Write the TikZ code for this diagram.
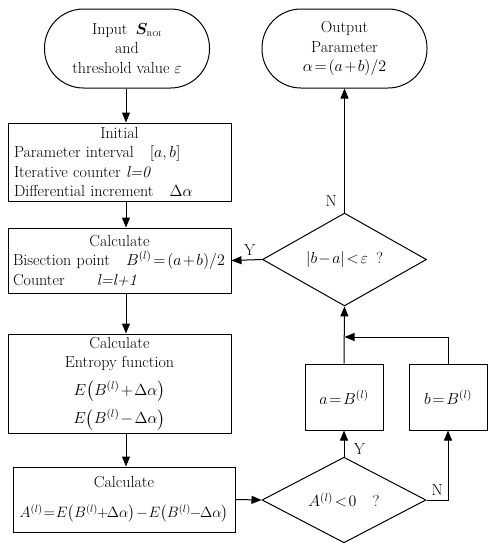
\IfFileExists{fix-cm.sty}{\RequirePackage{fix-cm}}{}
\documentclass[tikz,border=0pt]{standalone}
\usepackage{amsmath}
\IfFileExists{bm.sty}{\usepackage{bm}}{\providecommand\bm[1]{\mathbf{#1}}}
\usetikzlibrary{arrows.meta,shapes.geometric}
\thickmuskip=2mu
\medmuskip=1.5mu
\begin{document}
\begin{tikzpicture}[x=1pt,y=-1pt,
  every node/.style={font=\fontsize{16}{19.5}\selectfont},
  arr/.style={line width=1pt,-{Triangle[length=10pt,width=8pt]}},
  box/.style={draw,line width=1pt,rectangle,inner sep=0pt},
  term/.style={draw,line width=1pt,rectangle,rounded corners=39pt,minimum width=165pt,minimum height=79pt,align=center,inner sep=0pt},
  dec/.style={draw,line width=1pt,diamond,minimum width=164pt,minimum height=82pt,inner sep=0pt}
]
\useasboundingbox (0,0) rectangle (495,550);
\node[term] (start) at (127,48.5) {Input\enspace $\bm{S}_{\text{\fontsize{7}{7}\selectfont ROI}}$\\and\\threshold value $\varepsilon$};
\node[term] (out) at (344.5,48.5) {Output\\Parameter\\$\alpha=(a+b)/2$};
\node[box,minimum width=223pt,minimum height=78pt,text width=211pt,align=left] (init) at (119.5,162)
  {\parindent=0pt\centering Initial\par\raggedright Parameter interval\quad $[a,b]$\\Iterative counter \textit{l=0}\\Differential increment\quad$\Delta\alpha$};
\node[box,minimum width=223pt,minimum height=65pt,text width=213pt,align=left] (calc1) at (119.5,260.5)
  {\parindent=0pt\centering Calculate\par\raggedright Bisection point\quad $B^{(l)}=(a+b)/2$\\Counter\qquad\textit{l=l+1}};
\node[box,minimum width=223pt,minimum height=99pt,align=center] (ent) at (119.5,383.5)
  {Calculate\\Entropy function\\[8pt]$E\bigl(B^{(l)}+\Delta\alpha\bigr)$\\[7pt]$E\bigl(B^{(l)}-\Delta\alpha\bigr)$};
\node[box,minimum width=222pt,minimum height=65pt,text width=222pt,align=center] (calc2) at (124,499.5)
  {Calculate\\[11pt]\fontsize{15}{18}\selectfont$A^{(l)}\mkern1mu{=}\mkern1mu E\bigl(B^{(l)}\!+\!\Delta\alpha\bigr)\mkern1mu{-}\mkern1mu E\bigl(B^{(l)}\!-\!\Delta\alpha\bigr)$};
\node[dec] (d1) at (344,500) {$A^{(l)}<0$\quad ?};
\node[dec] (d2) at (344.5,259.5) {$\left|b-a\right|<\varepsilon$\enspace ?};
\node[box,minimum width=78pt,minimum height=66pt] (abox) at (344,397) {$a=B^{(l)}$};
\node[box,minimum width=78pt,minimum height=66pt] (bbox) at (448,397) {$b=B^{(l)}$};
\coordinate (cx) at (126,0);
\coordinate (j) at (344.5,337);
\draw[arr] (cx |- start.south) -- (cx |- init.north);
\draw[arr] (cx |- init.south) -- (cx |- calc1.north);
\draw[arr] (cx |- calc1.south) -- (cx |- ent.north);
\draw[arr] (cx |- ent.south) -- (cx |- calc2.north);
\draw[arr] (calc2.east) -- (d1.west);
\draw[arr] (d1.north) -- node[right=6pt,pos=0.3]{Y} (abox.south);
\draw[arr] (d1.east) -- node[above=1pt]{N} (d1.east -| bbox.south) -- (bbox.south);
\draw[arr] (abox.north) -- (d2.south);
\draw[arr] (bbox.north) |- (j);
\draw[arr] (d2.west) -- node[above=1pt,xshift=3pt]{Y} (calc1.east);
\draw[arr] (d2.north) -- node[left=4pt,pos=0.09]{N} (out.south);
\end{tikzpicture}
\end{document}
